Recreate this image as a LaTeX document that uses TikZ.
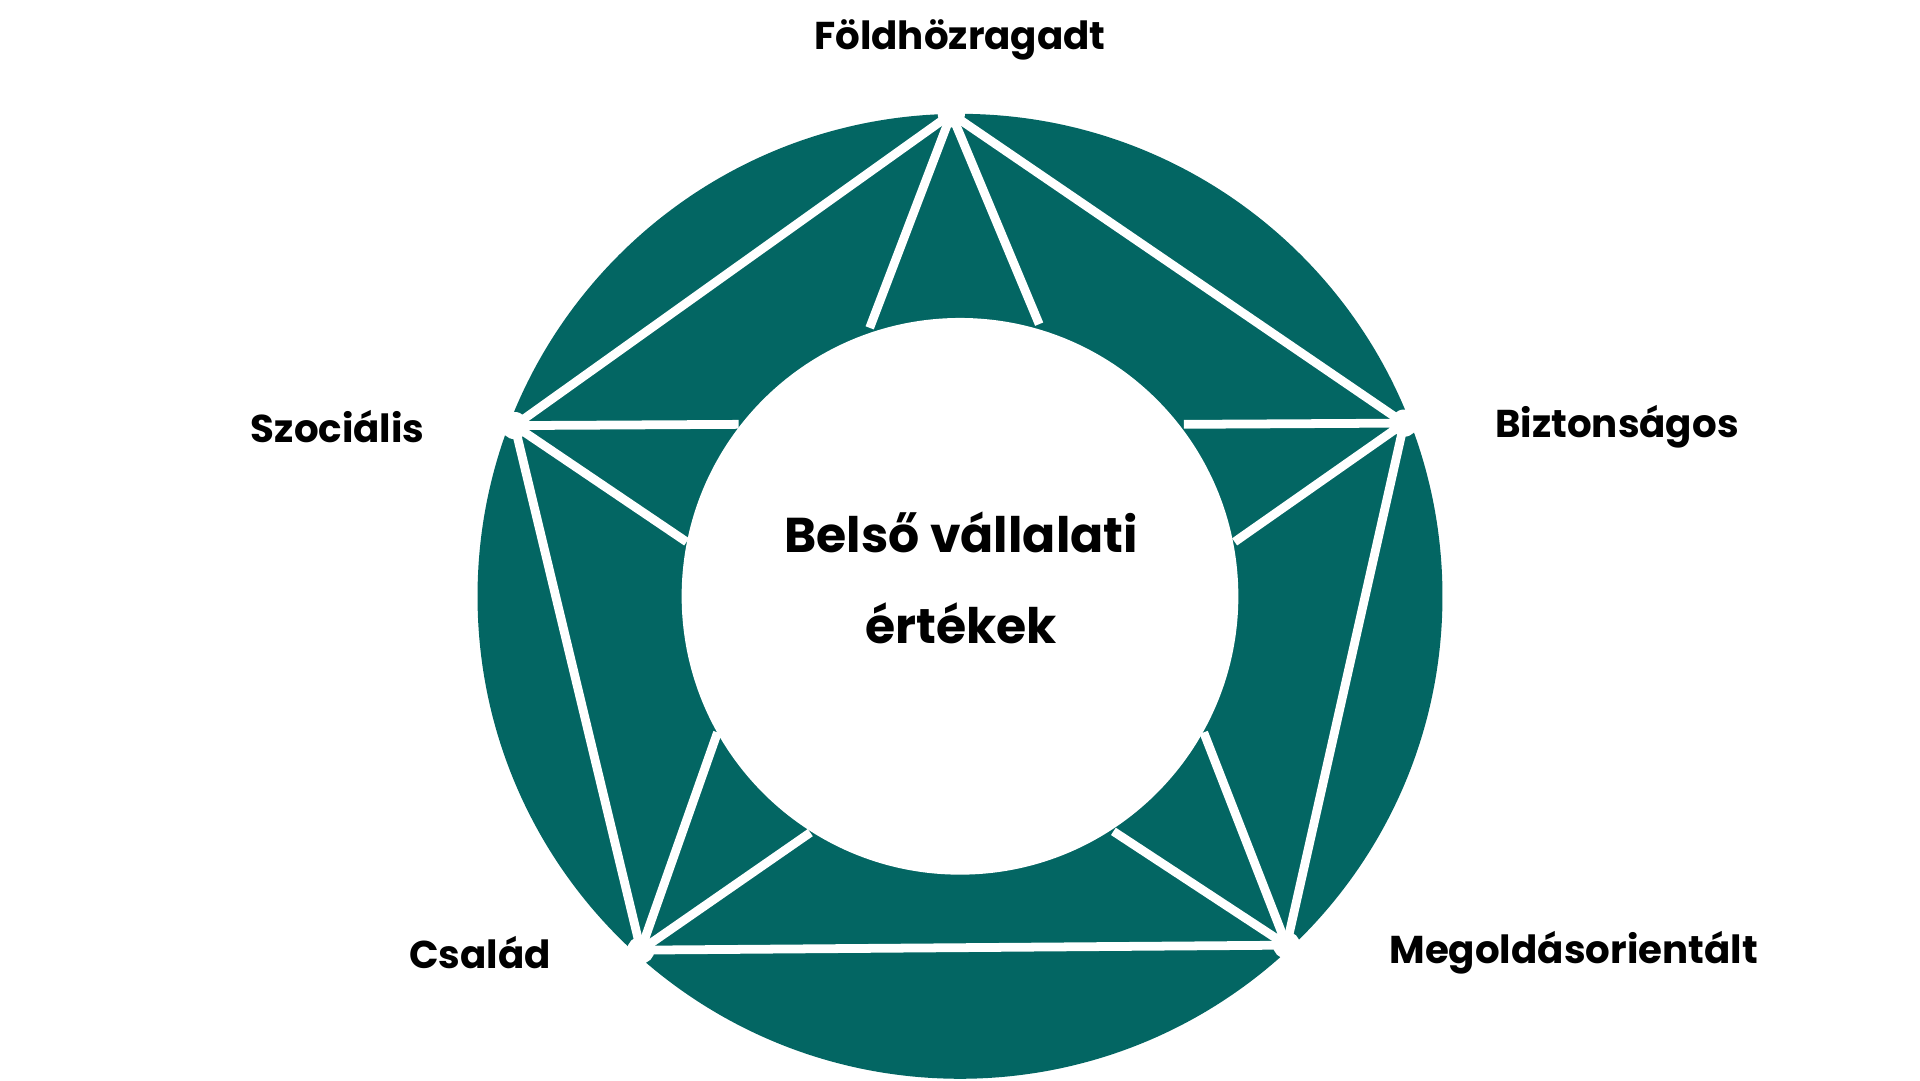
\documentclass[tikz,border=0pt]{standalone}
\usepackage{fontspec}
\setmainfont{Poppins}
\begin{document}
\begin{tikzpicture}[x=0.012887cm,y=-0.012887cm,
  ln/.style={white,line width=2.6pt},
  lab/.style={font=\fontsize{11.5}{14}\selectfont\bfseries,text=black},
  dot/.style={circle,fill=white,minimum size=18\pgflinewidth,inner sep=0pt}]
\definecolor{teal1}{HTML}{036663}
\useasboundingbox (0,0) rectangle (1552,873);
\fill[teal1] (776,482) circle (390);
\coordinate (T) at (769,92);
\coordinate (R) at (1135,342);
\coordinate (BR) at (1040,764);
\coordinate (BL) at (518,768);
\coordinate (L) at (416,344);
\draw[ln] (T) -- (R) -- (BR) -- (BL) -- (L) -- cycle;
\draw[ln] (T) -- (703,265) (T) -- (840,262);
\draw[ln] (R) -- (957,343) (R) -- (998,438);
\draw[ln] (L) -- (597,343) (L) -- (555,438);
\draw[ln] (BL) -- (580,592) (BL) -- (655,673);
\draw[ln] (BR) -- (973,592) (BR) -- (900,672);
\fill[white] (776,482) circle (225);
\foreach \p in {T,R,BR,BL,L} \fill[white] (\p) circle (11);
\node[lab] (n1) at (776,32) {Földhözragadt};
\node[lab] (n2) at (273,345) {Szociális};
\node[lab] (n3) at (1307,345) {Biztonságos};
\node[lab] (n4) at (388,770) {Család};
\node[lab] (n5) at (1272,770) {Megoldásorientált};
\node[font=\fontsize{14.5}{27}\selectfont\bfseries,align=center] (c) at (777,467) {Belső vállalati\\értékek};
\end{tikzpicture}
\end{document}
